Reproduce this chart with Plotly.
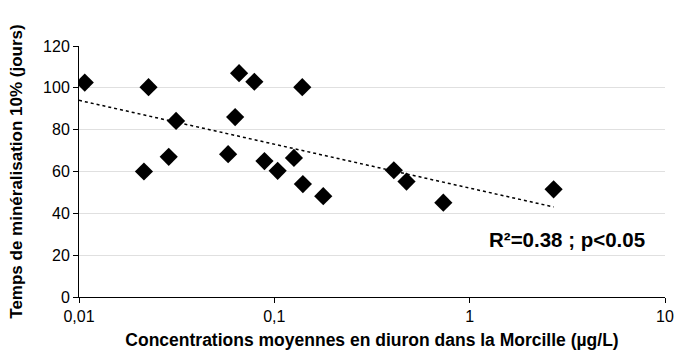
import numpy as np
import plotly.graph_objects as go

conc = [0.0107, 0.0227, 0.0215, 0.0288, 0.0314, 0.058, 0.063, 0.066, 0.079, 0.089,
        0.104, 0.126, 0.139, 0.140, 0.178, 0.409, 0.475, 0.733, 2.69]
temps = [102.5, 100.3, 60.0, 67.0, 84.2, 68.3, 86.0, 107.0, 102.9, 65.0,
         60.3, 66.5, 100.3, 54.0, 48.2, 60.6, 55.2, 45.1, 51.5]

x_ticks = [0.01, 0.1, 1, 10]
x_ticklabels = ["0,01", "0,1", "1", "10"]
y_ticks = [0, 20, 40, 60, 80, 100, 120]

# logarithmic trendline fitted on the data
lx = np.log10(conc)
a, b = np.polyfit(lx, temps, 1)
tx = np.logspace(np.log10(0.01), np.log10(max(conc)), 50)
ty = a * np.log10(tx) + b

fig = go.Figure()
fig.add_trace(go.Scatter(x=tx, y=ty, mode="lines",
                         line=dict(color="black", width=1.5, dash="dot"),
                         hoverinfo="skip", showlegend=False))
fig.add_trace(go.Scatter(x=conc, y=temps, mode="markers",
                         marker=dict(symbol="diamond", size=14, color="black"),
                         showlegend=False))

fig.add_annotation(x=0.5, y=27.3, xref="x", yref="y",
                   text="<b>R²=0.38 ; p<0.05</b>", showarrow=False,
                   font=dict(family="Liberation Sans, Arial", size=20.5, color="black"))

fig.update_layout(
    width=677, height=350,
    margin=dict(l=79, r=12, t=46, b=53),
    paper_bgcolor="white", plot_bgcolor="white",
    font=dict(family="Liberation Sans, Arial", size=16, color="black"),
    xaxis=dict(type="log", range=[-2, 1], tickvals=x_ticks, ticktext=x_ticklabels,
               showgrid=False, showline=True, linecolor="black", linewidth=1,
               ticks="outside", ticklen=5, tickcolor="black", zeroline=False,
               automargin=False,
               title=dict(text="<b>Concentrations moyennes en diuron dans la Morcille (µg/L)</b>",
                          font=dict(size=17.5), standoff=10)),
    yaxis=dict(range=[0, 120], tickvals=y_ticks, showgrid=True, gridcolor="#e0e0e0",
               gridwidth=1, showline=True, linecolor="black", linewidth=1,
               ticks="outside", ticklen=5, tickcolor="black", zeroline=False,
               automargin=False,
               title=dict(text="<b>Temps de minéralisation 10% (jours)</b>",
                          font=dict(size=17), standoff=16)),
)

fig.write_html("out.html")
